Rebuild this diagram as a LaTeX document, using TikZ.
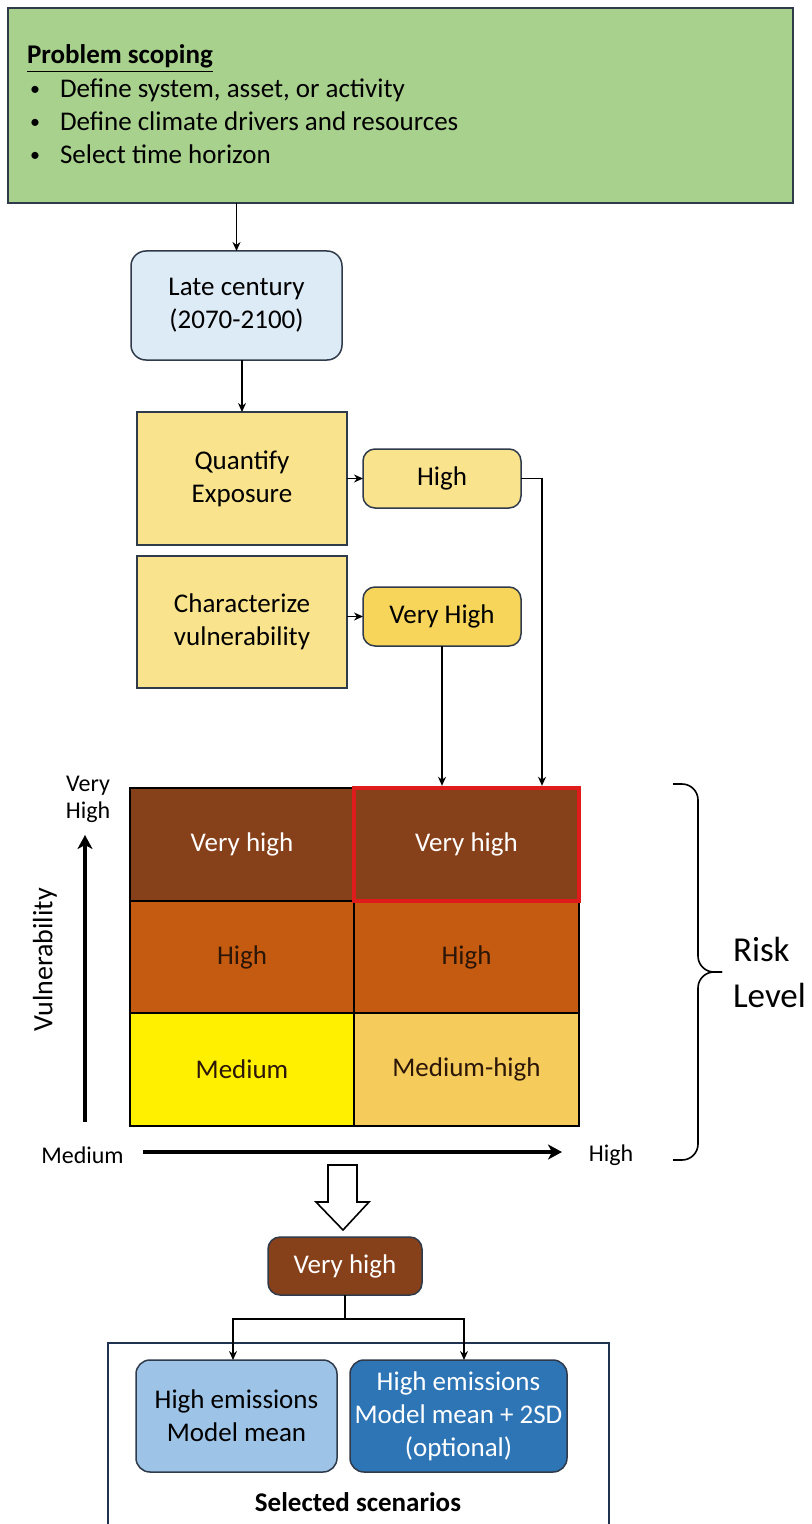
\documentclass[tikz,border=0pt]{standalone}
\usepackage{fontspec}
\setmainfont{Carlito}
\usetikzlibrary{arrows.meta}
\definecolor{scopegreen}{HTML}{A9D18E}
\definecolor{bordc}{HTML}{2F3A4A}
\definecolor{lateblue}{HTML}{DDEBF7}
\definecolor{yel}{HTML}{F9E38C}
\definecolor{yeldeep}{HTML}{F7D55A}
\definecolor{vhbrown}{HTML}{86401A}
\definecolor{horange}{HTML}{C55A11}
\definecolor{myellow}{HTML}{FFF000}
\definecolor{medhigh}{HTML}{F5CB5C}
\definecolor{redline}{HTML}{E01B1B}
\definecolor{lblue}{HTML}{9DC3E6}
\definecolor{dblue}{HTML}{2E75B6}
\definecolor{navy}{HTML}{1F3350}
\definecolor{darktext}{HTML}{2B1608}
\newcommand\mainfs{\fontsize{13.5}{16.5}\selectfont}
\begin{document}
\begin{tikzpicture}[x=0.5pt,y=-0.5pt,
  box/.style={draw=bordc, line width=0.75pt, inner sep=0pt, outer sep=0pt, align=center, font=\mainfs, text=black},
  rbox/.style={box, rounded corners=6pt},
  cell/.style={draw=black, line width=0.6pt, inner sep=0pt, outer sep=0pt, minimum width=112pt, align=center, font=\mainfs},
  arr/.style={-{Stealth[length=4.5pt,width=4pt]}, line width=0.7pt, draw=black},
  axarr/.style={-{Stealth[length=7pt,width=7.5pt,inset=2pt]}, line width=2.2pt, draw=black},
  txt/.style={inner sep=0pt, outer sep=0pt, font=\mainfs},
  bul/.style={inner sep=0pt, outer sep=0pt, font=\fontsize{10}{12}\selectfont},
  lab/.style={inner sep=0pt, outer sep=0pt, font=\fontsize{12}{13.5}\selectfont, align=center}
]
\clip (0,0) rectangle (812,1524);
\fill[white] (0,0) rectangle (812,1524);

% Problem scoping
\node[box, fill=scopegreen, minimum width=392.5pt, minimum height=97.5pt] (scope) at (400.5,105.5) {};
\node[txt, anchor=base west, font=\mainfs\bfseries] (t0) at (27,64) {\underline{Problem scoping}};
\node[bul] (d1) at (35,91) {•};
\node[txt, anchor=base west] (l1) at (60,98) {Define system, asset, or activity};
\node[bul] (d2) at (35,124) {•};
\node[txt, anchor=base west] (l2) at (60,131) {Define climate drivers and resources};
\node[bul] (d3) at (35,157) {•};
\node[txt, anchor=base west] (l3) at (60,164) {Select time horizon};

% Late century
\node[rbox, fill=lateblue, minimum width=105.5pt, minimum height=54.5pt, rounded corners=7.5pt] (late) at (236.5,305.5) {Late century\\(2070-2100)};

% Exposure / vulnerability
\node[box, fill=yel, minimum width=105pt, minimum height=66.5pt] (quant) at (242,478.5) {Quantify\\Exposure};
\node[box, fill=yel, minimum width=105pt, minimum height=66pt] (char) at (242,622) {Characterize\\vulnerability};
\node[rbox, fill=yel, minimum width=79pt, minimum height=29.5pt] (high) at (442,478.5) {High};
\node[rbox, fill=yeldeep, minimum width=79pt, minimum height=29.5pt] (vh) at (442,616.5) {Very High};

\draw[arr] (late.north |- scope.south) -- (late.north);
\draw[arr] (quant.north |- late.south) -- (quant.north);
\draw[arr] (quant.east) -- (high.west);
\draw[arr] (char.east |- vh.west) -- (vh.west);

% Matrix
\node[cell, fill=vhbrown, text=white, minimum height=56.5pt] (c11) at (242,844.5) {Very high};
\node[cell, fill=vhbrown, text=white, minimum height=56.5pt, minimum width=112.5pt] (c12) at (466.5,844.5) {Very high};
\node[cell, fill=horange, text=darktext, minimum height=56pt] (c21) at (242,957) {High};
\node[cell, fill=horange, text=darktext, minimum height=56pt, minimum width=112.5pt] (c22) at (466.5,957) {High};
\node[cell, fill=myellow, text=darktext, minimum height=56.5pt] (c31) at (242,1069.5) {Medium};
\node[cell, fill=medhigh, text=darktext, minimum height=56.5pt, minimum width=112.5pt] (c32) at (466.5,1069.5) {Medium-high};
\draw[redline, line width=2.2pt] (c12.north west) rectangle (c12.south east);

\coordinate (hk) at (542,478.5);
\draw[arr, shorten >=1.1pt] (high.east) -- (hk) -- (hk |- c12.north);
\draw[arr, shorten >=1.1pt] (vh.south) -- (vh.south |- c12.north);

% Axes
\coordinate (vbot) at (85,1122);
\coordinate (vtop) at (85,835);
\draw[axarr] (vbot) -- (vtop);
\coordinate (hlft) at (143,1152);
\coordinate (hrgt) at (562,1152);
\draw[axarr] (hlft) -- (hrgt);
\node[lab] (vhlab) at (88,799) {Very\\High};
\node[lab, rotate=90, font=\fontsize{14}{16}\selectfont] (vul) at (45,960) {Vulnerability};
\node[lab] (medlab) at (82.5,1155) {Medium};
\node[lab] (highlab) at (611,1155) {High};

% Brace
\draw[line width=0.8pt, rounded corners=8pt] (673,784) -- (698,784) -- (698,972) -- (722,972);
\draw[line width=0.8pt, rounded corners=8pt] (722,972) -- (698,972) -- (698,1160) -- (673,1160);
\node[txt, anchor=base west, font=\fontsize{17.5}{20}\selectfont] (risk) at (733,961) {Risk};
\node[txt, anchor=base west, font=\fontsize{17.5}{20}\selectfont] (level) at (733,1007) {Level};

% Hollow arrow
\draw[fill=white, line width=0.8pt, line join=miter] (328,1165) -- (357,1165) -- (357,1202) -- (369,1202) -- (343,1230) -- (316,1202) -- (328,1202) -- cycle;

% Result
\node[rbox, fill=vhbrown, text=white, minimum width=77pt, minimum height=29pt] (res) at (345,1266) {Very high};

% Selected scenarios
\node[draw=navy, line width=0.8pt, inner sep=0pt, minimum width=250.5pt, minimum height=98.5pt] (sel) at (358.5,1441.5) {};
\node[rbox, fill=lblue, minimum width=100.5pt, minimum height=56pt, rounded corners=7pt] (s1) at (236.5,1416) {High emissions\\Model mean};
\node[rbox, fill=dblue, text=white, minimum width=108.5pt, minimum height=56pt, rounded corners=7pt] (s2) at (458.5,1416) {High emissions\\Model mean + 2SD\\(optional)};
\node[txt, font=\mainfs\bfseries] (seltitle) at (358,1502) {Selected scenarios};

\coordinate (jn) at (345,1319);
\draw[line width=0.7pt] (res.south) -- (jn);
\draw[arr] (jn) -| ([xshift=-1.75pt]s1.north);
\draw[arr] (jn) -| ([xshift=2.75pt]s2.north);
\end{tikzpicture}
\end{document}
